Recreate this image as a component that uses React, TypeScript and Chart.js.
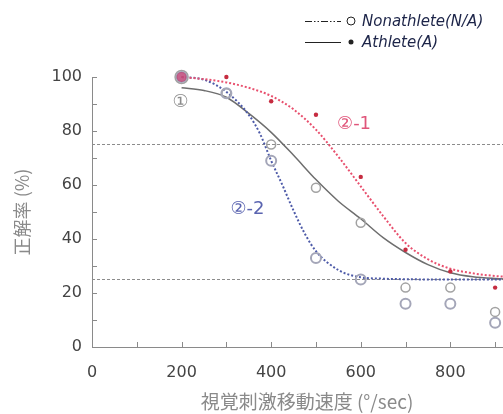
import React, { useEffect, useRef } from 'react';
import { Chart, registerables } from 'chart.js';

Chart.register(...registerables);

// Measured speeds (°/sec) and correct-answer rates (%)
const speeds = [200, 300, 400, 500, 600, 700, 800, 900];
const athleteValues = [100, 100, 91, 86, 63, 36, 28, 22];
const nonathleteAllValues = [100, 94, 75, 59, 46, 22, 22, 13];
const nonathleteGroupValues = [100, 94, 69, 33, 25, 16, 16, 9];

// Fitted curves
const athleteFitX = [200, 250, 300, 350, 400, 450, 500, 550, 600, 650, 700, 750, 800, 850, 900, 960];
const athleteFitY = [100, 99.2, 98, 96, 93, 88, 80.5, 70.5, 59.5, 48.5, 38.5, 32.5, 29, 27.3, 26.3, 25.6];

const groupFitX = [200, 250, 300, 350, 375, 400, 425, 450, 475, 500, 550, 600, 650, 700, 800, 900, 960];
const groupFitY = [100, 99, 94.5, 86, 79, 69, 60, 50.5, 42, 35.5, 28.5, 25.8, 25.3, 25.1, 25, 25, 25];

const overallFitX = [200, 250, 300, 350, 400, 450, 500, 550, 600, 650, 700, 750, 800, 850, 900, 960];
const overallFitY = [96, 95, 92.5, 86.5, 79.5, 71, 62, 54, 47.5, 40.5, 35, 30.5, 27.5, 26, 25.4, 25.1];

const referenceLevels = [75, 25];

const xTickLabels = [0, 200, 400, 600, 800];
const yTickLabels = [0, 20, 40, 60, 80, 100];
const xMinorTicks = [0, 100, 200, 300, 400, 500, 600, 700, 800, 900];
const yMinorTicks = [0, 10, 20, 30, 40, 50, 60, 70, 80, 90, 100];

const legendLabels = ['Nonathlete(N/A)', 'Athlete(A)'];
const curveLabels = ['①', '②-1', '②-2'];
const xTitle = '視覚刺激移動速度 (°/sec)';
const yTitle = '正解率 (%)';

const X_MAX = 960;

const pairs = (xs: number[], ys: number[]) => xs.map((x, i) => ({ x, y: ys[i] }));

const decorPlugin = {
  id: 'decor',
  afterDraw(chart: any) {
    const { ctx, chartArea } = chart;
    const xs = chart.scales.x;
    const ys = chart.scales.y;
    ctx.save();
    // inner minor ticks
    ctx.strokeStyle = '#8a8a8a';
    ctx.lineWidth = 1;
    ctx.beginPath();
    yMinorTicks.forEach((v) => {
      const py = Math.round(ys.getPixelForValue(v)) + 0.5;
      ctx.moveTo(chartArea.left, py);
      ctx.lineTo(chartArea.left + 5, py);
    });
    xMinorTicks.forEach((v) => {
      const px = Math.round(xs.getPixelForValue(v)) + 0.5;
      ctx.moveTo(px, chartArea.bottom);
      ctx.lineTo(px, chartArea.bottom - 5);
    });
    ctx.stroke();

    // curve labels
    ctx.textAlign = 'center';
    ctx.textBaseline = 'middle';
    const anchors = [
      { x: 198, y: 90.5, color: '#8c8c8c' },
      { x: 585, y: 82.5, color: '#e0557a' },
      { x: 347, y: 51, color: '#5a64b0' },
    ];
    curveLabels.forEach((t, i) => {
      const a = anchors[i];
      ctx.fillStyle = a.color;
      ctx.font = "18px 'DejaVu Sans'";
      ctx.fillText(t, xs.getPixelForValue(a.x), ys.getPixelForValue(a.y));
    });

    // legend
    const rows = [21, 42];
    ctx.strokeStyle = '#222';
    ctx.fillStyle = '#222';
    ctx.lineWidth = 1;
    ctx.beginPath();
    ctx.setLineDash([7, 2, 1.5, 2, 1.5, 2]);
    ctx.moveTo(305, rows[0] + 0.5);
    ctx.lineTo(341, rows[0] + 0.5);
    ctx.stroke();
    ctx.setLineDash([]);
    ctx.beginPath();
    ctx.arc(351, rows[0], 4, 0, Math.PI * 2);
    ctx.stroke();
    ctx.beginPath();
    ctx.moveTo(305, rows[1] + 0.5);
    ctx.lineTo(341, rows[1] + 0.5);
    ctx.stroke();
    ctx.beginPath();
    ctx.arc(351, rows[1], 2.5, 0, Math.PI * 2);
    ctx.fill();
    ctx.textAlign = 'left';
    ctx.fillStyle = '#1c2448';
    ctx.font = "oblique 15px 'DejaVu Sans'";
    legendLabels.forEach((t, i) => ctx.fillText(t, 362, rows[i] + 1));
    ctx.restore();
  },
};

export default function App() {
  const ref = useRef<HTMLCanvasElement | null>(null);

  useEffect(() => {
    if (!ref.current) return;
    const chart = new Chart(ref.current, {
      type: 'line',
      data: {
        datasets: [
          ...referenceLevels.map((lv) => ({
            data: [{ x: 0, y: lv }, { x: X_MAX, y: lv }],
            borderColor: '#8c8c8c',
            borderWidth: 1,
            borderDash: [3, 2],
            pointRadius: 0,
            order: 10,
          })),
          {
            data: pairs(overallFitX, overallFitY),
            borderColor: '#6e6e6e',
            borderWidth: 1.5,
            pointRadius: 0,
            cubicInterpolationMode: 'monotone',
            order: 6,
            clip: false,
          },
          {
            data: pairs(groupFitX, groupFitY),
            borderColor: '#4d5aa8',
            borderWidth: 2,
            borderDash: [2, 2],
            pointRadius: 0,
            cubicInterpolationMode: 'monotone',
            order: 5,
            clip: false,
          },
          {
            data: pairs(athleteFitX, athleteFitY),
            borderColor: '#e8506e',
            borderWidth: 2,
            borderDash: [2, 2],
            pointRadius: 0,
            cubicInterpolationMode: 'monotone',
            order: 4,
            clip: false,
          },
          {
            data: pairs(speeds, nonathleteAllValues),
            showLine: false,
            pointRadius: (c: any) => (c.dataIndex === 0 ? 6.5 : 4.5),
            pointBorderColor: '#a2a2a2',
            pointBorderWidth: 1.5,
            pointBackgroundColor: 'rgba(255,255,255,0)',
            order: 3,
            clip: false,
          },
          {
            data: pairs(speeds, nonathleteGroupValues),
            showLine: false,
            pointRadius: 5,
            pointBorderColor: '#a4a6b8',
            pointBorderWidth: 2,
            pointBackgroundColor: 'rgba(255,255,255,0)',
            order: 2,
            clip: false,
          },
          {
            data: pairs(speeds, athleteValues),
            showLine: false,
            pointRadius: (c: any) => (c.dataIndex === 0 ? 5 : 2.2),
            pointBorderWidth: 0,
            pointBackgroundColor: (c: any) => (c.dataIndex === 0 ? 'rgba(190,70,120,0.85)' : '#c62c40'),
            order: 1,
            clip: false,
          },
        ],
      },
      options: {
        animation: false,
        responsive: false,
        events: [],
        layout: { padding: { top: 77, left: 0, right: 0, bottom: 0 } },
        plugins: { legend: { display: false }, tooltip: { enabled: false } },
        scales: {
          x: {
            type: 'linear',
            min: 0,
            max: X_MAX,
            afterFit: (s: any) => { s.height = 67; },
            afterBuildTicks: (s: any) => { s.ticks = xTickLabels.map((v) => ({ value: v })); },
            grid: { display: true, drawOnChartArea: false, drawTicks: false },
            border: { display: true, color: '#8a8a8a', width: 1 },
            ticks: {
              autoSkip: false,
              maxRotation: 0,
              padding: 16,
              color: '#444',
              font: { family: "'DejaVu Sans'", size: 16 },
            },
            title: {
              display: true,
              text: xTitle,
              color: '#8a8a8a',
              font: { family: "'Noto Sans CJK JP'", size: 19 },
              padding: { top: 0, bottom: 1 },
            },
          },
          y: {
            type: 'linear',
            min: 0,
            max: 100,
            afterFit: (s: any) => { s.width = 92; },
            afterBuildTicks: (s: any) => { s.ticks = yTickLabels.map((v) => ({ value: v })); },
            grid: { display: true, drawOnChartArea: false, drawTicks: false },
            border: { display: true, color: '#8a8a8a', width: 1 },
            ticks: {
              autoSkip: false,
              padding: 10,
              color: '#444',
              font: { family: "'DejaVu Sans'", size: 16 },
            },
            title: {
              display: true,
              text: yTitle,
              color: '#8a8a8a',
              font: { family: "'Noto Sans CJK JP'", size: 18 },
              padding: { top: 11, bottom: 0 },
            },
          },
        },
      },
      plugins: [decorPlugin],
    } as any);
    return () => chart.destroy();
  }, []);

  return (
    <div style={{ position: 'fixed', left: 0, top: 0, width: 503, height: 414, overflow: 'hidden', background: '#fff' }}>
      <canvas ref={ref} width={530} height={414} style={{ display: 'block' }} />
    </div>
  );
}
